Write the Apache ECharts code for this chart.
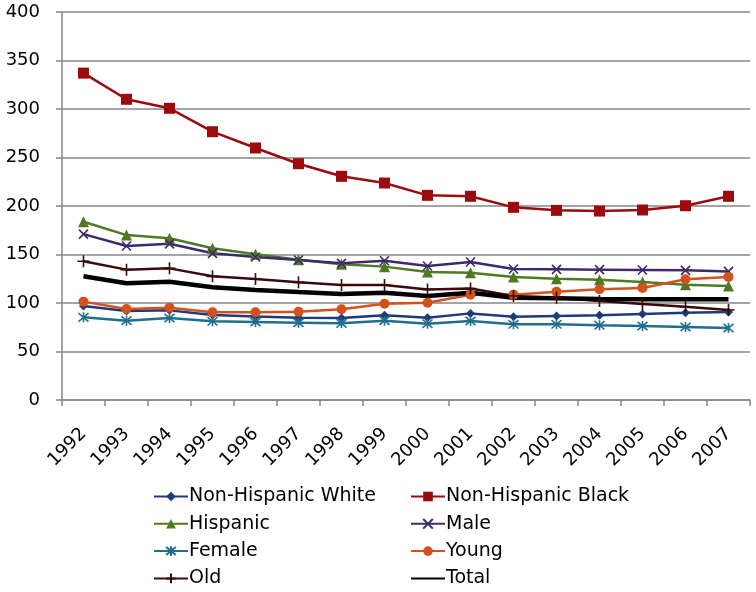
<!DOCTYPE html>
<html>
<head>
<meta charset="utf-8">
<script src="https://cdn.jsdelivr.net/npm/echarts@6/dist/echarts.min.js"></script>
<style>html,body{margin:0;padding:0;background:#fff}#c{width:756px;height:592px}</style>
</head>
<body>
<div id="c"></div>
<script>
var years = ['1992','1993','1994','1995','1996','1997','1998','1999','2000','2001','2002','2003','2004','2005','2006','2007'];
var yTicks = [0, 50, 100, 150, 200, 250, 300, 350, 400];
var nonHispanicWhite = [96.9, 91.8, 92.4, 87.6, 86.2, 84.9, 84.5, 87.3, 84.9, 89.3, 85.9, 86.6, 87.3, 88.7, 90.0, 90.7];
var nonHispanicBlack = [337, 310, 300.7, 276.6, 259.8, 243.6, 230.6, 223.7, 211, 210, 198.6, 195.5, 194.8, 195.9, 200.3, 210];
var hispanic = [183.8, 170, 166.7, 156.4, 150.2, 144.7, 139.9, 137.5, 132, 131.3, 126.8, 125.1, 124, 121.6, 118.9, 117.5];
var male = [171, 158.8, 161, 151.2, 147.4, 144.3, 140.9, 143.6, 138.1, 142.3, 135, 134.7, 134.4, 134, 133.7, 132.6];
var female = [85.2, 81.8, 84.5, 81.1, 80.4, 79.7, 79, 81.8, 78.7, 81.4, 78, 78, 77, 76.3, 75.3, 74.2];
var young = [101.4, 93.8, 95.2, 90.4, 90.4, 91, 93.5, 99.3, 100.3, 108.6, 108.6, 111.7, 114.1, 115.5, 124.4, 126.8];
var old = [143, 134.4, 135.7, 127.5, 124.7, 121.3, 118.6, 118.6, 114, 115, 107.2, 105.5, 102, 99, 96.2, 92.8];
var total = [127.5, 120.3, 122, 116.2, 113.4, 111.3, 109.3, 110.6, 107.2, 110.6, 105.5, 104.8, 104.1, 103.8, 103.8, 103.8];

var FONT = 'DejaVu Sans';
var xPath = 'path://M0,0L10,10M10,0L0,10';
var starPath = 'path://M0,0L10,10M10,0L0,10M5,-1L5,11';
var plusPath = 'path://M5,0L5,10M0,5L10,5';

function mk(name, data, color, symbol, size, stroke, width) {
  var s = {
    name: name, type: 'line', data: data,
    symbol: symbol, symbolSize: size,
    lineStyle: {color: color, width: width || 2.5},
    itemStyle: {color: color},
    emphasis: {disabled: true},
    z: 2
  };
  if (stroke) {
    s.itemStyle = {color: 'rgba(0,0,0,0)', borderColor: color, borderWidth: 1.6};
  }
  return s;
}

var legendText = {fontFamily: FONT, fontSize: 19, color: '#000', padding: [0, 0, 0, -4]};

var chart = echarts.init(document.getElementById('c'), null, {renderer: 'canvas'});
chart.setOption({
  animation: false,
  backgroundColor: '#fff',
  grid: {left: 62, right: 6, top: 12, bottom: 192},
  xAxis: {
    type: 'category', data: years, boundaryGap: true,
    axisLine: {lineStyle: {color: '#868686', width: 1.5}},
    axisTick: {show: true, length: 6, lineStyle: {color: '#868686', width: 1.5}},
    axisLabel: {rotate: 45, margin: 31, color: '#000', fontFamily: FONT, fontSize: 18, interval: 0}
  },
  yAxis: {
    type: 'value', min: yTicks[0], max: yTicks[yTicks.length - 1], interval: yTicks[1] - yTicks[0],
    axisLine: {show: true, lineStyle: {color: '#868686', width: 1.5}},
    axisTick: {show: true, length: 6, lineStyle: {color: '#868686', width: 1.5}},
    splitLine: {lineStyle: {color: '#868686', width: 1.5}},
    axisLabel: {color: '#000', fontFamily: FONT, fontSize: 18, margin: 22}
  },
  legend: [{
    orient: 'vertical', left: 153, top: 487, padding: 0, itemGap: 8.3, itemWidth: 34, itemHeight: 12,
    textStyle: legendText,
    data: ['Non-Hispanic White', 'Hispanic', 'Female', 'Old']
  }, {
    orient: 'vertical', left: 410, top: 487, padding: 0, itemGap: 8.3, itemWidth: 34, itemHeight: 12,
    textStyle: legendText,
    data: ['Non-Hispanic Black', 'Male', 'Young', {name: 'Total', itemStyle: {opacity: 0}}]
  }],
  series: [
    mk('Non-Hispanic White', nonHispanicWhite, '#1F3A78', 'diamond', 9),
    mk('Non-Hispanic Black', nonHispanicBlack, '#9C0A0E', 'rect', 11),
    mk('Hispanic', hispanic, '#4E7A22', 'triangle', 11),
    mk('Male', male, '#3E2A6B', xPath, 9, true),
    mk('Female', female, '#1F6E8E', starPath, 10, true),
    mk('Young', young, '#D2511C', 'circle', 10),
    mk('Old', old, '#3A0B0B', plusPath, 12, true),
    mk('Total', total, '#000000', 'none', 0, false, 4.5)
  ]
});
</script>
</body>
</html>
